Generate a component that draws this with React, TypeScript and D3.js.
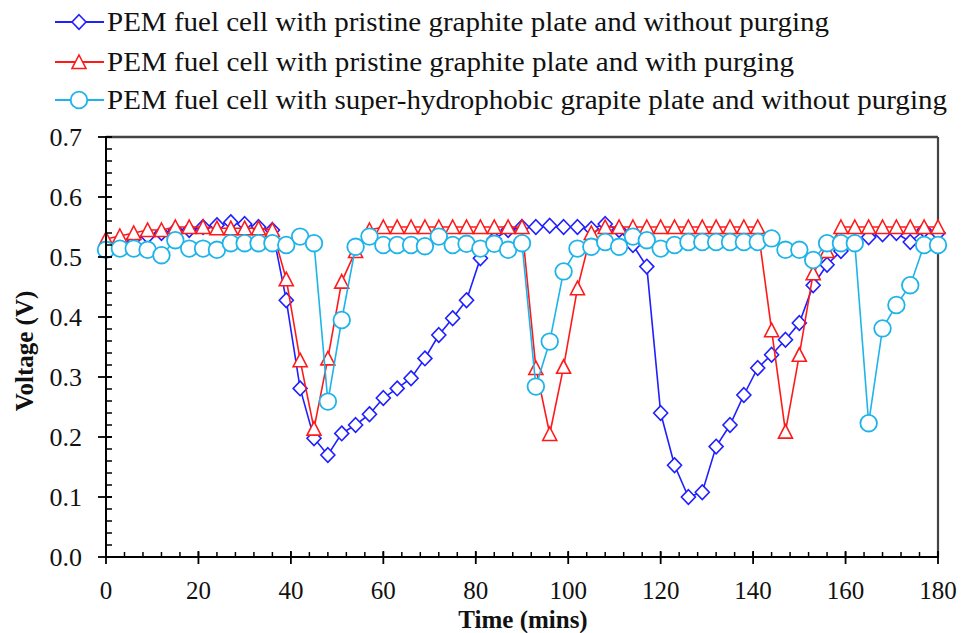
import React from "react";
import * as d3 from "d3";

const time = [0,3,6,9,12,15,18,21,24,27,30,33,36,39,42,45,48,51,54,57,60,63,66,69,72,75,78,81,84,87,90,93,96,99,102,105,108,111,114,117,120,123,126,129,132,135,138,141,144,147,150,153,156,159,162,165,168,171,174,177,180];

const noPurge = [0.51,0.52,0.53,0.535,0.54,0.545,0.545,0.55,0.553,0.558,0.555,0.55,0.545,0.428,0.281,0.198,0.17,0.206,0.22,0.238,0.265,0.281,0.298,0.331,0.37,0.398,0.428,0.498,0.53,0.545,0.55,0.55,0.552,0.55,0.55,0.547,0.555,0.545,0.52,0.484,0.24,0.153,0.10,0.108,0.184,0.22,0.27,0.315,0.337,0.362,0.39,0.453,0.487,0.51,0.525,0.533,0.538,0.54,0.525,0.545,0.54];

const withPurge = [0.53,0.535,0.54,0.545,0.545,0.55,0.55,0.55,0.548,0.548,0.548,0.548,0.545,0.463,0.328,0.214,0.331,0.459,0.51,0.545,0.55,0.55,0.55,0.55,0.55,0.55,0.55,0.55,0.55,0.55,0.55,0.315,0.205,0.317,0.448,0.54,0.55,0.55,0.55,0.55,0.55,0.55,0.55,0.55,0.55,0.55,0.55,0.55,0.378,0.209,0.337,0.473,0.51,0.55,0.55,0.55,0.55,0.55,0.55,0.55,0.55];

const superHydro = [0.512,0.514,0.514,0.512,0.503,0.528,0.514,0.514,0.512,0.523,0.523,0.523,0.523,0.52,0.534,0.523,0.259,0.395,0.517,0.534,0.52,0.52,0.52,0.518,0.534,0.52,0.522,0.514,0.522,0.512,0.523,0.284,0.359,0.476,0.514,0.517,0.525,0.517,0.534,0.528,0.514,0.52,0.525,0.525,0.525,0.525,0.525,0.525,0.531,0.512,0.512,0.495,0.523,0.523,0.523,0.223,0.381,0.42,0.453,0.52,0.52];

const seriesNames = [
  "PEM fuel cell with pristine graphite plate and without purging",
  "PEM fuel cell with pristine graphite plate and with purging",
  "PEM fuel cell with super-hydrophobic grapite plate and without purging",
];

const xTicks = [0,20,40,60,80,100,120,140,160,180];
const yTicks = [0.0,0.1,0.2,0.3,0.4,0.5,0.6,0.7];

const W = 963, H = 633;
const X0 = 106, X1 = 938, Y0 = 557, Y1 = 137;
const FONT = "'Liberation Serif', 'Times New Roman', serif";

const x = d3.scaleLinear().domain([0, 180]).range([X0, X1]);
const y = d3.scaleLinear().domain([0, 0.7]).range([Y0, Y1]);

type Kind = "diamond" | "triangle" | "circle";

function Marker({ kind, cx, cy, color }: { kind: Kind; cx: number; cy: number; color: string }) {
  if (kind === "circle") {
    return <circle cx={cx} cy={cy} r={8.3} fill="white" stroke={color} strokeWidth={1.8} />;
  }
  if (kind === "diamond") {
    const p = d3.path();
    p.moveTo(cx, cy - 7.3); p.lineTo(cx + 7, cy); p.lineTo(cx, cy + 7.3); p.lineTo(cx - 7, cy); p.closePath();
    return <path d={p.toString()} fill="white" stroke={color} strokeWidth={1.6} />;
  }
  const p = d3.path();
  p.moveTo(cx, cy - 7); p.lineTo(cx + 7, cy + 6.5); p.lineTo(cx - 7, cy + 6.5); p.closePath();
  return <path d={p.toString()} fill="white" stroke={color} strokeWidth={1.6} />;
}

const series: { name: string; values: number[]; color: string; kind: Kind }[] = [
  { name: seriesNames[0], values: noPurge, color: "#1f1fff", kind: "diamond" },
  { name: seriesNames[1], values: withPurge, color: "#ff1a1a", kind: "triangle" },
  { name: seriesNames[2], values: superHydro, color: "#1eb4ea", kind: "circle" },
];

const legendRows = [22, 62, 100];
const legendWidths = [722, 687, 840];

export default function App() {
  const line = d3.line<number>().x((_, i) => x(time[i])).y((d) => y(d));
  const xMinor = d3.range(0, 181, 4);
  const yMinor = d3.range(0, 0.701, 0.02);
  return (
    <svg width={W} height={H} style={{ position: "absolute", left: 0, top: 0, background: "white" }}>
      <line x1={X0} y1={Y1} x2={X1} y2={Y1} stroke="#444" strokeWidth={2.5} />
      <line x1={X1} y1={Y1} x2={X1} y2={Y0} stroke="#444" strokeWidth={2.2} />

      {series.map((s) => (
        <g key={s.name}>
          <path d={line(s.values) || ""} fill="none" stroke={s.color} strokeWidth={1.6} />
          {s.values.map((v, i) => (
            <Marker key={i} kind={s.kind} cx={x(time[i])} cy={y(v)} color={s.color} />
          ))}
        </g>
      ))}

      <line x1={X0} y1={Y1 - 1} x2={X0} y2={Y0 + 1} stroke="black" strokeWidth={2} />
      <line x1={X0 - 1} y1={Y0} x2={X1 + 1} y2={Y0} stroke="black" strokeWidth={2} />
      {yMinor.map((v, i) => (
        <line key={"ym" + i} x1={X0} x2={X0 + 6} y1={y(v)} y2={y(v)} stroke="black" strokeWidth={1.5} />
      ))}
      {yTicks.map((v) => (
        <g key={"y" + v}>
          <line x1={X0 - 8} x2={X0 + 6} y1={y(v)} y2={y(v)} stroke="black" strokeWidth={1.8} />
          <text x={82} y={y(v)} dy="0.35em" textAnchor="end" fontFamily={FONT} fontSize={26} fill="#111">
            {v.toFixed(1)}
          </text>
        </g>
      ))}
      {xMinor.map((v) => (
        <line key={"xm" + v} x1={x(v)} x2={x(v)} y1={Y0} y2={Y0 - 5} stroke="black" strokeWidth={1.5} />
      ))}
      {xTicks.map((v) => (
        <g key={"x" + v}>
          <line x1={x(v)} x2={x(v)} y1={Y0 - 6} y2={Y0 + 7} stroke="black" strokeWidth={1.8} />
          <text x={x(v)} y={599} textAnchor="middle" fontFamily={FONT} fontSize={25} fill="#111">
            {v}
          </text>
        </g>
      ))}
      <text x={523} y={628} textAnchor="middle" fontFamily={FONT} fontSize={25} fontWeight="bold" fill="#111">
        Time (mins)
      </text>
      <text transform={`translate(33,351) rotate(-90)`} textAnchor="middle" fontFamily={FONT} fontSize={25} fontWeight="bold" fill="#111">
        Voltage (V)
      </text>

      {series.map((s, i) => {
        const ly = legendRows[i];
        return (
          <g key={"lg" + i}>
            <line x1={55} x2={104} y1={ly} y2={ly} stroke={s.color} strokeWidth={1.8} />
            <Marker kind={s.kind} cx={79} cy={ly} color={s.color} />
            <text x={107} y={ly} dy="0.33em" fontFamily={FONT} fontSize={26.5} fill="#111"
              textLength={legendWidths[i]} lengthAdjust="spacingAndGlyphs">
              {s.name}
            </text>
          </g>
        );
      })}
    </svg>
  );
}
